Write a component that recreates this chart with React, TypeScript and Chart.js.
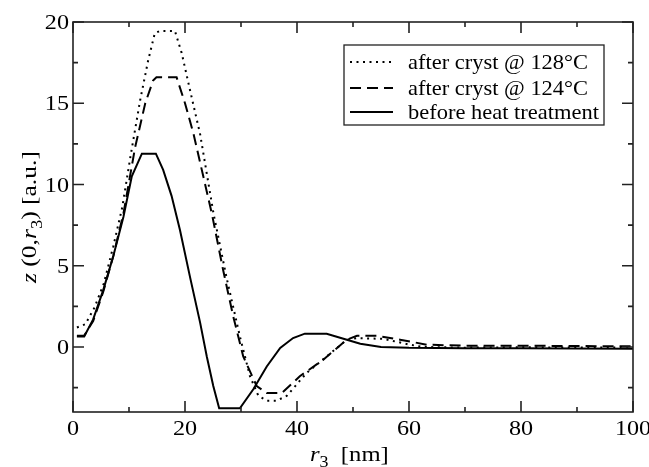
import React, { useEffect, useRef } from 'react';
import { Chart, registerables } from 'chart.js';

Chart.register(...registerables);

// before heat treatment (solid)
const xBefore = [0.7, 2, 3.6, 5.4, 7.2, 9, 10.5, 12.3, 14.8, 16.1, 17.6, 19.1, 20.9, 22.7, 23.9, 25.05, 26.1, 29.8, 32.2, 34.6, 37, 39.3, 41.4, 45.3, 48.9, 51.3, 55, 60, 70, 80, 90, 100];
const yBefore = [0.65, 0.65, 1.7, 3.5, 5.6, 8.0, 10.5, 11.9, 11.9, 10.9, 9.3, 7.2, 4.3, 1.5, -0.6, -2.4, -3.77, -3.77, -2.6, -1.2, -0.06, 0.55, 0.82, 0.82, 0.45, 0.2, 0.0, -0.05, -0.07, -0.08, -0.09, -0.1];

// after cryst @ 128°C (dotted)
const x128 = [0.7, 2.2, 3.8, 5.5, 7.2, 8.8, 10.3, 12, 13.4, 14.6, 15.5, 18.2, 19.4, 20.9, 22.7, 25.1, 27.4, 29.8, 31.6, 33.1, 34.6, 36.4, 38.2, 41.7, 45.3, 48.9, 50.7, 55.4, 60.2, 62.6, 70, 80, 90, 100];
const y128 = [1.2, 1.4, 2.4, 3.9, 6.2, 8.6, 11.8, 15.2, 17.6, 19.3, 19.45, 19.45, 18.1, 15.8, 13.1, 8.2, 4.3, 0.65, -1.8, -3.0, -3.3, -3.3, -3.0, -1.6, -0.58, 0.45, 0.55, 0.5, 0.14, 0.0, -0.04, -0.02, -0.03, -0.04];

// after cryst @ 124°C (dashed)
const x124 = [0.7, 2, 3.6, 5.4, 7.2, 9, 11.1, 12.9, 14.3, 14.9, 18.5, 20, 21.5, 24.8, 26.8, 28.6, 30.4, 32.8, 34.6, 37.3, 40.5, 44.7, 48.9, 50.7, 54.2, 58.4, 63.2, 70, 80, 90, 100];
const y124 = [0.7, 0.7, 1.6, 3.4, 5.6, 8.2, 12.3, 15.0, 16.4, 16.6, 16.6, 15.0, 13.15, 8.2, 4.75, 1.9, -0.58, -2.4, -2.83, -2.83, -1.8, -0.78, 0.45, 0.69, 0.69, 0.45, 0.14, 0.08, 0.08, 0.06, 0.04];

const legendLabels = ['after cryst @ 128°C', 'after cryst @ 124°C', 'before heat treatment'];
const xTicks = [0, 20, 40, 60, 80, 100];
const xMinorTicks = [10, 30, 50, 70, 90];
const yTicks = [0, 5, 10, 15, 20];
const yMinorTicks = [-2.5, 2.5, 7.5, 12.5, 17.5];

const SERIF = '"Liberation Serif", "DejaVu Serif", serif';

type Seg = { t: string; it?: boolean; sub?: boolean };

// draws rich text starting at the current origin; stretched horizontally by sx
function drawRich(ctx: CanvasRenderingContext2D, segs: Seg[], size: number, subSize: number, sx: number) {
  const fontFor = (s: Seg) => `${s.it ? 'italic ' : ''}${s.sub ? subSize : size}px ${SERIF}`;
  ctx.save();
  ctx.scale(sx, 1);
  ctx.textAlign = 'left';
  ctx.textBaseline = 'alphabetic';
  let x = 0;
  for (const s of segs) {
    ctx.font = fontFor(s);
    ctx.fillText(s.t, x, s.sub ? size * 0.27 : 0);
    x += ctx.measureText(s.t).width;
  }
  ctx.restore();
}

function drawStretched(ctx: CanvasRenderingContext2D, text: string, x: number, y: number, align: 'center' | 'right', sx: number) {
  const w = ctx.measureText(text).width * sx;
  const x0 = align === 'center' ? x - w / 2 : x - w;
  ctx.save();
  ctx.translate(x0, y);
  ctx.scale(sx, 1);
  ctx.textAlign = 'left';
  ctx.textBaseline = 'alphabetic';
  ctx.fillText(text, 0, 0);
  ctx.restore();
}

const decorPlugin = {
  id: 'decor',
  afterDraw(chart: any) {
    const ctx: CanvasRenderingContext2D = chart.ctx;
    const { left, right, top, bottom } = chart.chartArea;
    const xs = chart.scales.x;
    const ys = chart.scales.y;
    ctx.save();
    ctx.strokeStyle = '#222';
    ctx.lineWidth = 1.6;
    ctx.setLineDash([]);
    ctx.strokeRect(left, top, right - left, bottom - top);
    ctx.beginPath();
    const major = 11;
    const minor = 5;
    for (const v of xTicks) {
      const p = xs.getPixelForValue(v);
      ctx.moveTo(p, bottom); ctx.lineTo(p, bottom - major);
      ctx.moveTo(p, top); ctx.lineTo(p, top + major);
    }
    for (const v of xMinorTicks) {
      const p = xs.getPixelForValue(v);
      ctx.moveTo(p, bottom); ctx.lineTo(p, bottom - minor);
      ctx.moveTo(p, top); ctx.lineTo(p, top + minor);
    }
    for (const v of yTicks) {
      const p = ys.getPixelForValue(v);
      ctx.moveTo(left, p); ctx.lineTo(left + major, p);
      ctx.moveTo(right, p); ctx.lineTo(right - major, p);
    }
    for (const v of yMinorTicks) {
      const p = ys.getPixelForValue(v);
      ctx.moveTo(left, p); ctx.lineTo(left + minor, p);
      ctx.moveTo(right, p); ctx.lineTo(right - minor, p);
    }
    ctx.stroke();

    // tick labels
    ctx.fillStyle = '#000';
    ctx.font = `21px ${SERIF}`;
    for (const v of xTicks) {
      drawStretched(ctx, String(v), xs.getPixelForValue(v), 435, 'center', 1.15);
    }
    for (const v of yTicks) {
      drawStretched(ctx, String(v), left - 4, ys.getPixelForValue(v) + 7, 'right', 1.15);
    }

    // legend
    const bx = 344, by = 45, bw = 260, bh = 80;
    ctx.lineWidth = 1.3;
    ctx.strokeStyle = '#222';
    ctx.strokeRect(bx, by, bw, bh);
    const rows = [62, 88, 112];
    chart.data.datasets.forEach((ds: any, i: number) => {
      ctx.beginPath();
      ctx.strokeStyle = '#000';
      ctx.lineWidth = 2;
      ctx.setLineDash(ds.borderDash || []);
      ctx.moveTo(350, rows[i]);
      ctx.lineTo(393, rows[i]);
      ctx.stroke();
      ctx.setLineDash([]);
      ctx.fillStyle = '#000';
      ctx.font = `21px ${SERIF}`;
      drawStretched(ctx, legendLabels[i], 408 + ctx.measureText(legendLabels[i]).width * 1.07, rows[i] + 7, 'right', 1.07);
    });

    // axis titles
    ctx.fillStyle = '#000';
    ctx.save();
    ctx.translate(310, 461);
    drawRich(ctx, [{ t: 'r', it: true }, { t: '3', sub: true }, { t: '  [nm]' }], 22, 16, 1.12);
    ctx.restore();
    ctx.save();
    ctx.translate(36, 283);
    ctx.rotate(-Math.PI / 2);
    drawRich(ctx, [{ t: 'z', it: true }, { t: ' (0,' }, { t: 'r', it: true }, { t: '3', sub: true }, { t: ') [a.u.]' }], 22, 16, 1.16);
    ctx.restore();
    ctx.restore();
  },
};

export default function App() {
  const ref = useRef<HTMLCanvasElement | null>(null);
  useEffect(() => {
    if (!ref.current) return;
    const mk = (xa: number[], ya: number[]) => xa.map((x, i) => ({ x, y: ya[i] }));
    const chart = new Chart(ref.current, {
      type: 'line',
      data: {
        datasets: [
          { label: legendLabels[0], data: mk(x128, y128), borderColor: '#000', borderWidth: 2, borderDash: [2, 4.5], pointRadius: 0, tension: 0, fill: false },
          { label: legendLabels[1], data: mk(x124, y124), borderColor: '#000', borderWidth: 2, borderDash: [11, 6], pointRadius: 0, tension: 0, fill: false },
          { label: legendLabels[2], data: mk(xBefore, yBefore), borderColor: '#000', borderWidth: 2, pointRadius: 0, tension: 0, fill: false },
        ],
      },
      options: {
        responsive: false,
        animation: false,
        layout: { padding: { left: 0, top: 22, right: 16, bottom: 0 } },
        plugins: { legend: { display: false }, tooltip: { enabled: false } },
        scales: {
          x: {
            type: 'linear',
            min: 0,
            max: 100,
            afterBuildTicks: (s: any) => { s.ticks = xTicks.map((v) => ({ value: v })); },
            afterFit: (s: any) => { s.height = 55; },
            grid: { display: false, drawTicks: false },
            border: { display: false },
            ticks: { display: false },
          },
          y: {
            type: 'linear',
            min: -4,
            max: 20,
            afterBuildTicks: (s: any) => { s.ticks = yTicks.map((v) => ({ value: v })); },
            afterFit: (s: any) => { s.width = 73; },
            grid: { display: false, drawTicks: false },
            border: { display: false },
            ticks: { display: false },
          },
        },
      },
      plugins: [decorPlugin],
    } as any);
    return () => chart.destroy();
  }, []);
  return (
    <div style={{ position: 'absolute', left: 0, top: 0, width: 649, height: 467, background: '#fff' }}>
      <canvas ref={ref} width={649} height={467} />
    </div>
  );
}
